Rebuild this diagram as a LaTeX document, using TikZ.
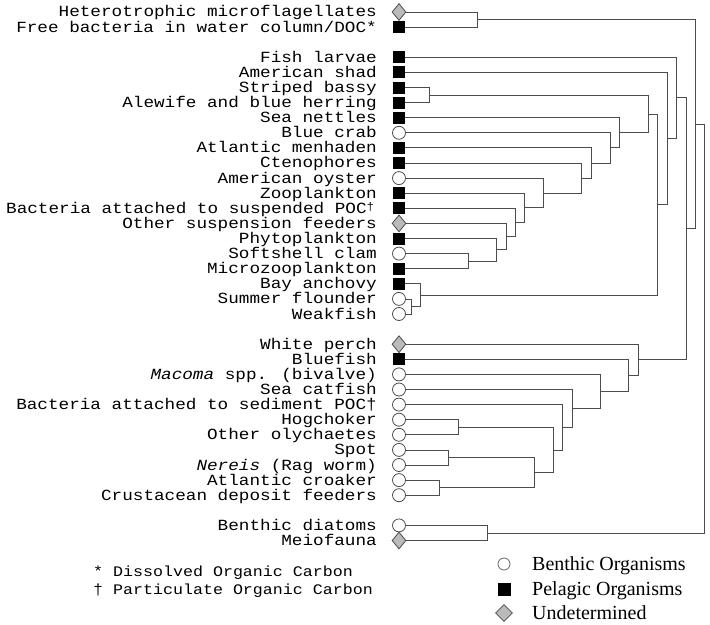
\documentclass[tikz,border=0pt]{standalone}
\usepackage{fontspec}
\usetikzlibrary{calc,positioning,shapes.geometric}
\newfontfamily\labelfont[FakeStretch=1.14]{Liberation Mono}
\newfontfamily\keyfont{Liberation Serif}

\tikzset{
  leaf/.style={draw=black!70, line width=0.8bp, inner sep=0pt},
  benthic/.style={leaf, circle, fill=white, minimum size=13bp},
  pelagic/.style={leaf, rectangle, fill=black, draw=black, minimum size=11bp},
  undet/.style={leaf, diamond, fill=black!27, minimum width=14bp, minimum height=17bp},
  branch/.style={draw=black!70, line width=0.8bp},
  lbl/.style={font=\labelfont\fontsize{15.5bp}{15bp}\selectfont, inner sep=0pt, anchor=base east},
  note/.style={font=\labelfont\fontsize{14.6bp}{15bp}\selectfont, inner sep=0pt, anchor=base west},
  keytext/.style={font=\keyfont\fontsize{20bp}{20bp}\selectfont, inner sep=0pt, anchor=base west},
}

\newcommand{\joinpair}[4]{%
  \path let \p1 = ($(#2)!.5!(#3)$) in coordinate (#1) at (#4bp,\y1);
  \draw[branch] (#2) -| (#1) |- (#3);
}

\begin{document}
\begin{tikzpicture}[x=1bp, y=-1bp]
    \useasboundingbox (0,0) rectangle (710,625);
    \foreach \r/\kind/\id/\txt in {
      0/undet/het/{Heterotrophic microflagellates},
      1/pelagic/fbw/{Free bacteria in water column/DOC*},
      3/pelagic/fll/{Fish larvae},
      4/pelagic/ams/{American shad},
      5/pelagic/stb/{Striped bassy},
      6/pelagic/ale/{Alewife and blue herring},
      7/pelagic/sne/{Sea nettles},
      8/benthic/bcr/{Blue crab},
      9/pelagic/atm/{Atlantic menhaden},
      10/pelagic/cte/{Ctenophores},
      11/benthic/aoy/{American oyster},
      12/pelagic/zoo/{Zooplankton},
      13/pelagic/bas/{Bacteria attached to suspended POC\raisebox{.2em}{\fontsize{11bp}{11bp}\selectfont †}\,},
      14/undet/osf/{Other suspension feeders},
      15/pelagic/phy/{Phytoplankton},
      16/benthic/sof/{Softshell clam},
      17/pelagic/miz/{Microzooplankton},
      18/pelagic/bay/{Bay anchovy},
      19/benthic/suf/{Summer flounder},
      20/benthic/wkf/{Weakfish},
      22/undet/whp/{White perch},
      23/pelagic/blf/{Bluefish},
      24/benthic/mac/{\textit{Macoma} spp. (bivalve)},
      25/benthic/sec/{Sea catfish},
      26/benthic/bsd/{Bacteria attached to sediment POC†},
      27/benthic/hog/{Hogchoker},
      28/benthic/oly/{Other olychaetes},
      29/benthic/spo/{Spot},
      30/benthic/ner/{\textit{Nereis} (Rag worm)},
      31/benthic/atc/{Atlantic croaker},
      32/benthic/cru/{Crustacean deposit feeders},
      34/benthic/bdi/{Benthic diatoms},
      35/undet/mei/{Meiofauna}} {
      \node[\kind] (\id) at (399,{12+15.1*\r}) {};
      \node[lbl] (\id-t) at (377,{17+15.1*\r}) {\txt};
    }

    \joinpair{hf}{het}{fbw}{477}

    \joinpair{sb}{stb}{ale}{429}
    \joinpair{sm}{sof}{miz}{468}
    \joinpair{m1}{phy}{sm}{496}
    \joinpair{m2}{osf}{m1}{506}
    \joinpair{m3}{bas}{m2}{515}
    \joinpair{m4}{zoo}{m3}{524}
    \joinpair{m5}{aoy}{m4}{543}
    \joinpair{m6}{cte}{m5}{581}
    \joinpair{m7}{atm}{m6}{591}
    \joinpair{m8}{bcr}{m7}{610}
    \joinpair{m9}{sne}{m8}{619}
    \joinpair{m10}{sb}{m9}{648}
    \joinpair{sw}{suf}{wkf}{411}
    \joinpair{ba}{bay}{sw}{420}
    \joinpair{m11}{m10}{ba}{657}
    \joinpair{m12}{ams}{m11}{667}
    \joinpair{g2}{fll}{m12}{676}

    \joinpair{ho}{hog}{oly}{458}
    \joinpair{sn}{spo}{ner}{448}
    \joinpair{ac}{atc}{cru}{439}
    \joinpair{n1}{sn}{ac}{534}
    \joinpair{n2}{ho}{n1}{553}
    \joinpair{n3}{bsd}{n2}{562}
    \joinpair{n4}{sec}{n3}{572}
    \joinpair{n5}{mac}{n4}{600}
    \joinpair{n6}{blf}{n5}{628}
    \joinpair{g3}{whp}{n6}{638}

    \joinpair{g23}{g2}{g3}{686}
    \joinpair{top}{hf}{g23}{695}
    \joinpair{bm}{bdi}{mei}{487}
    \joinpair{root}{top}{bm}{704}

    \node[note] (doc) at (93,576) {* Dissolved Organic Carbon};
    \node[note] (poc) at (93,594) {† Particulate Organic Carbon};

    \node[benthic, draw=black!60, minimum size=12bp] (key-b) at (504,564) {};
    \node[pelagic, minimum size=12bp] (key-p) at (504,589) {};
    \node[undet, minimum width=17bp, minimum height=17bp] (key-u) at (504,613) {};
    \node[keytext] (key-b-t) at (532,570) {Benthic Organisms};
    \node[keytext] (key-p-t) at (532,595) {Pelagic Organisms};
    \node[keytext] (key-u-t) at (532,619) {Undetermined};
  \end{tikzpicture}
\end{document}
